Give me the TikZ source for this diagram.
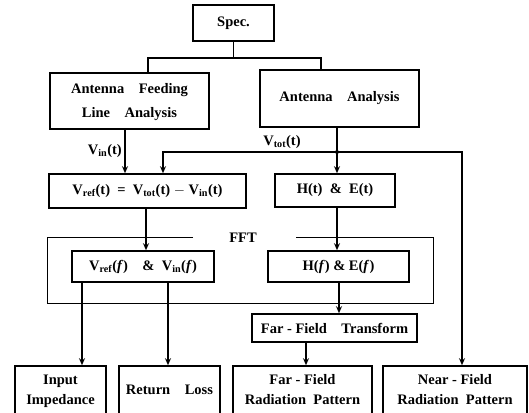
\documentclass[tikz,border=0pt]{standalone}
\usepackage{fontspec}
\setmainfont{Liberation Serif}
\usetikzlibrary{arrows.meta}
\newcommand\mysub[1]{\textsubscript{#1}}
\newcommand\mytwo[2]{\raisebox{6pt}{\begin{tabular}{@{}c@{}}#1\\[-2pt]#2\end{tabular}}}
\begin{document}
\begin{tikzpicture}[x=1pt,y=-1pt,
 box/.style={draw,line width=1.6pt,rectangle,inner sep=0pt,align=center,font=\fontsize{14.5}{22}\selectfont\bfseries},
 conn/.style={line width=1.5pt},
 arr/.style={conn,-{Stealth[length=7pt,width=6pt]}},
 lbl/.style={font=\fontsize{14.5}{16}\selectfont\bfseries,inner sep=0pt}]
\useasboundingbox (0,0) rectangle (529,412);
\node[box,minimum width=81pt,minimum height=36pt] (spec) at (233.5,23) {Spec.};
\node[box,minimum width=159pt,minimum height=56pt] (feed) at (129.5,101) {\raisebox{-3pt}{\begin{tabular}{@{}c@{}}Antenna\quad Feeding\\[2pt]Line\quad Analysis\end{tabular}}};
\node[box,minimum width=159pt,minimum height=57pt] (ant) at (339.5,98.5) {Antenna\quad Analysis};
\node[box,minimum width=197pt,minimum height=34pt] (vref) at (147.5,191) {V\mysub{ref}(t)\ \ =\ \ V\mysub{tot}(t)\ $-$\ V\mysub{in}(t)};
\node[box,minimum width=120pt,minimum height=33pt] (ht) at (335,190.5) {H(t)\ \ \&\ \ E(t)};
\node[box,minimum width=142pt,minimum height=31pt] (vreff) at (143,266.5) {V\mysub{ref}(\textit{f})\quad\&\ \ V\mysub{in}(\textit{f})};
\node[box,minimum width=141pt,minimum height=31pt] (hf) at (338.5,266.5) {H(\textit{f})\ \&\ E(\textit{f})};
\node[box,minimum width=165pt,minimum height=28pt] (fft) at (334.5,328) {Far - Field\quad Transform};
\node[box,minimum width=91pt,minimum height=48pt] (inp) at (60.5,390) {\mytwo{Input}{Impedance}};
\node[box,minimum width=101pt,minimum height=48pt] (ret) at (169.5,390) {Return\quad Loss};
\node[box,minimum width=139pt,minimum height=48pt] (far) at (302.5,390) {\mytwo{Far - Field}{Radiation\ \ Pattern}};
\node[box,minimum width=144pt,minimum height=48pt] (near) at (455,390) {\mytwo{Near - Field}{Radiation\ \ Pattern}};
% Spec tree
\coordinate (fl) at (148,58);
\coordinate (fr) at (321,58);
\draw[conn] (spec.south) -- (spec.south |- fl);
\draw[conn] (fl |- feed.north) -- (fl) -- (fr) -- (fr |- ant.north);
% V_in
\coordinate (vi) at (125,150);
\draw[arr] (vi |- feed.south) -- (vi |- vref.north);
\node[lbl,anchor=east] (vinl) at (122,151) {V\mysub{in}(t)};
% V_tot
\coordinate (j) at (337,152);
\coordinate (jl) at (163,152);
\coordinate (jr) at (462,152);
\draw[arr] (j |- ant.south) -- (j |- ht.north);
\draw[arr] (j) -- (jl) -- (jl |- vref.north);
\draw[arr] (j) -- (jr) -- (jr |- near.north);
\fill (j) circle (2pt);
\node[lbl] (vtotl) at (282,142) {V\mysub{tot}(t)};
% time to frequency
\coordinate (a1) at (146,0);
\draw[arr] (a1 |- vref.south) -- (a1 |- vreff.north);
\coordinate (a2) at (337,0);
\draw[arr] (a2 |- ht.south) -- (a2 |- hf.north);
% FFT frame
\draw[line width=0.9pt] (193,237) -- (47,237) -- (47,303) -- (433,303) -- (433,237) -- (296,237);
\node[lbl] (fftl) at (243,238) {FFT};
% outputs
\coordinate (b1) at (82,0);
\coordinate (b2) at (168,0);
\coordinate (b3) at (339,0);
\coordinate (b4) at (306,0);
\draw[arr] (b1 |- vreff.south) -- (b1 |- inp.north);
\draw[arr] (b2 |- vreff.south) -- (b2 |- ret.north);
\draw[arr] (b3 |- hf.south) -- (b3 |- fft.north);
\draw[arr] (b4 |- fft.south) -- (b4 |- far.north);
\end{tikzpicture}
\end{document}
